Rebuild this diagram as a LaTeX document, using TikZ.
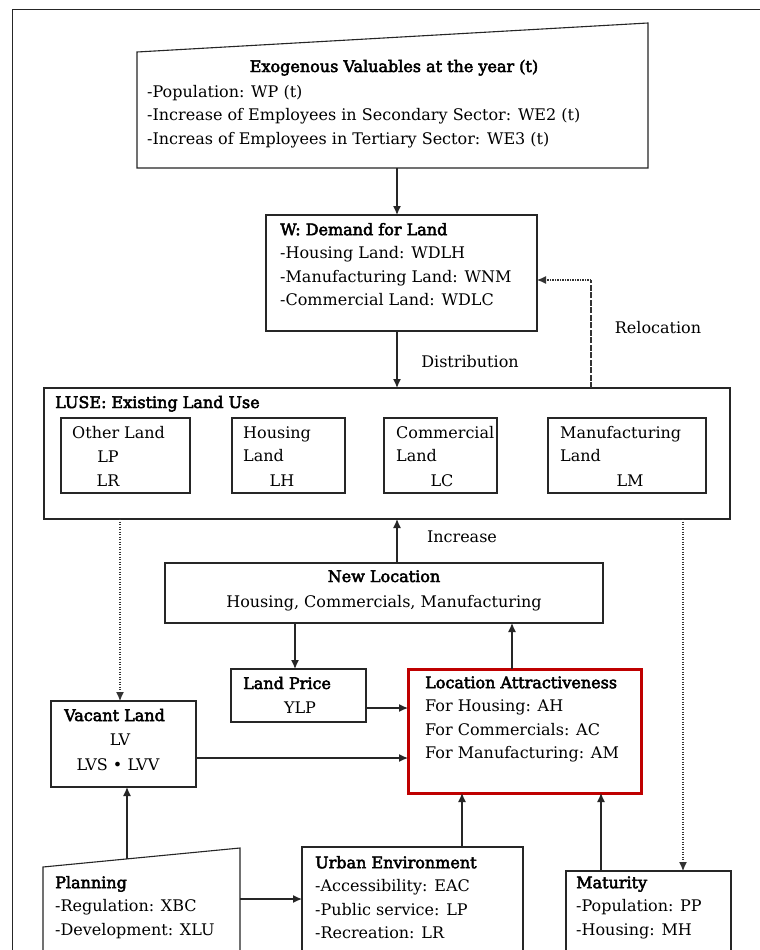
\documentclass[tikz,border=0pt]{standalone}
\usepackage{fontspec}
\setmainfont{DejaVu Serif}[BoldFont=DejaVu Serif,BoldFeatures={FakeBold=3}]
\usetikzlibrary{arrows.meta}
\newcommand\bodyfont{\fontsize{16}{23.5}\selectfont}
% rectangle box from its top-left and bottom-right corners
\newcommand\boxnode[6][]{\node[box,#1,minimum width=#5pt-#3pt,minimum height=#6pt-#4pt] (#2) at (#3,#4) {};}
\begin{document}
\begin{tikzpicture}[x=1pt,y=-1pt,
  box/.style={draw=black!85,line width=1.1pt,inner sep=0pt,outer sep=0pt,anchor=north west},
  outline/.style={draw=black!85,line width=1.1pt,line join=miter},
  hotbox/.style={draw=red!75!black,line width=3pt},
  para/.style={anchor=north west,inner sep=0pt,align=left,font=\bodyfont,yshift=16.45pt},
  line/.style={anchor=base west,inner sep=0pt,font=\bodyfont},
  cline/.style={anchor=base,inner sep=0pt,font=\bodyfont},
  arr/.style={draw=black!85,line width=1.3pt,-{Latex[length=9pt,width=8pt]}},
  dotarr/.style={draw=black!80,line width=1.1pt,dash pattern=on 1.3pt off 1.2pt,-{Latex[length=9pt,width=8pt]}},
  dashln/.style={draw=black!80,line width=1.1pt,dash pattern=on 6pt off 1.5pt},
]
\clip (0,0) rectangle (760,950);
\fill[white] (0,0) rectangle (760,950);
% page frame
\draw[black!85,line width=1pt] (12,10) rectangle (800,1000);

% exogenous inputs (manual-input shape)
\node[box,draw=none,minimum width=511pt,minimum height=145pt] (exo) at (137,23) {};
\draw[outline] (exo.south west) -- (exo.south east) -- (exo.north east) -- (137,52) -- cycle;
\node[cline] (exot) at (394,72) {\textbf{Exogenous Valuables at the year (t)}};
\node[para] (exob) at (147,97) {\strut-Population: WP (t)\\-Increase of Employees in Secondary Sector: WE2 (t)\\-Increas of Employees in Tertiary Sector: WE3 (t)};

% demand for land
\boxnode{dem}{266}{215}{537}{331}
\node[para] (demt) at (280,235) {\strut\textbf{W: Demand for Land}\\-Housing Land: WDLH\\-Manufacturing Land: WNM\\-Commercial Land: WDLC};

% existing land use
\boxnode{luse}{44}{388}{730}{519}
\node[line] (luset) at (55,408) {\textbf{LUSE: Existing Land Use}};
\boxnode{lo}{61}{418}{190}{493}
\boxnode{lh}{232}{418}{345}{493}
\boxnode{lc}{384}{418}{497}{493}
\boxnode{lm}{548}{418}{706}{493}
\node[line] (lo1) at (72,438) {Other Land};
\node[cline] (lo2) at (108,462) {LP};
\node[cline] (lo3) at (108,486) {LR};
\node[para] (lh1) at (243,438) {\strut Housing\\Land};
\node[cline] (lh2) at (282,486) {LH};
\node[para] (lc1) at (396,438) {\strut Commercial\\Land};
\node[cline] (lc2) at (442,486) {LC};
\node[para] (lm1) at (560,438) {\strut Manufacturing\\Land};
\node[cline] (lm2) at (630,486) {LM};

% new location
\boxnode{nl}{165}{563}{603}{623}
\node[cline] (nl1) at (384,582) {\textbf{New Location}};
\node[cline] (nl2) at (384,607) {Housing, Commercials, Manufacturing};

% land price
\boxnode{lp}{231}{669}{366}{722}
\node[line] (lp1) at (243,689) {\textbf{Land Price}};
\node[cline] (lp2) at (300,713) {YLP};

% location attractiveness
\boxnode[hotbox]{la}{408}{669}{641}{793}
\node[para] (la1) at (425,688) {\strut\textbf{Location Attractiveness}\\For Housing: AH\\For Commercials: AC\\For Manufacturing: AM};

% vacant land
\boxnode{vl}{51}{701}{196}{787}
\node[line] (vl1) at (64,721) {\textbf{Vacant Land}};
\node[cline] (vl2) at (120,745) {LV};
\node[cline] (vl3) at (118,770) {LVS \textbullet\ LVV};

% planning (manual-input shape)
\node[box,draw=none,minimum width=197pt,minimum height=112pt] (pl) at (43,848) {};
\draw[outline] (pl.south west) -- (43,867) -- (pl.north east) -- (pl.south east);
\node[para] (pl1) at (55,888) {\strut\textbf{Planning}\\-Regulation: XBC\\-Development: XLU};

% urban environment
\boxnode{ue}{302}{847}{523}{980}
\node[para] (ue1) at (315,868) {\strut\textbf{Urban Environment}\\-Accessibility: EAC\\-Public service: LP\\-Recreation: LR};

% maturity
\boxnode{ma}{566}{871}{731}{980}
\node[para] (ma1) at (576,888) {\strut\textbf{Maturity}\\-Population: PP\\-Housing: MH};

% connector guides
\coordinate (cmid) at (397,0);
\coordinate (cnl) at (295,0);
\coordinate (cla) at (512,0);
\coordinate (cue) at (462,0);
\coordinate (cma) at (601,0);
\coordinate (cvl) at (120,0);
\coordinate (cmat) at (683,0);
\coordinate (crel) at (591,280);
\coordinate (rlp) at (0,708);
\coordinate (rvl) at (0,758);
\coordinate (rpl) at (0,899);
\coordinate (plantop) at (127,859);

% flows
\draw[arr] (exo.south -| cmid) -- (dem.north -| cmid);
\draw[arr] (dem.south -| cmid) -- (luse.north -| cmid);
\node[cline] (dist) at (470,367) {Distribution};
\draw[dashln] (luse.north -| crel) -- (crel);
\draw[dotarr] (crel) -- (dem.east |- crel);
\node[cline] (reloc) at (658,333) {Relocation};
\draw[arr] (nl.north -| cmid) -- (luse.south -| cmid);
\node[cline] (incr) at (462,542) {Increase};
\draw[arr] (nl.south -| cnl) -- (lp.north -| cnl);
\draw[arr] (la.north -| cla) -- (nl.south -| cla);
\draw[arr] (lp.east |- rlp) -- (la.west |- rlp);
\draw[arr] (vl.east |- rvl) -- (la.west |- rvl);
\draw[dotarr] (luse.south -| cvl) -- (vl.north -| cvl);
\draw[dotarr] (luse.south -| cmat) -- (ma.north -| cmat);
\draw[arr] (plantop) -- (vl.south -| plantop);
\draw[arr] (pl.east |- rpl) -- (ue.west |- rpl);
\draw[arr] (ue.north -| cue) -- (la.south -| cue);
\draw[arr] (ma.north -| cma) -- (la.south -| cma);
\end{tikzpicture}
\end{document}
